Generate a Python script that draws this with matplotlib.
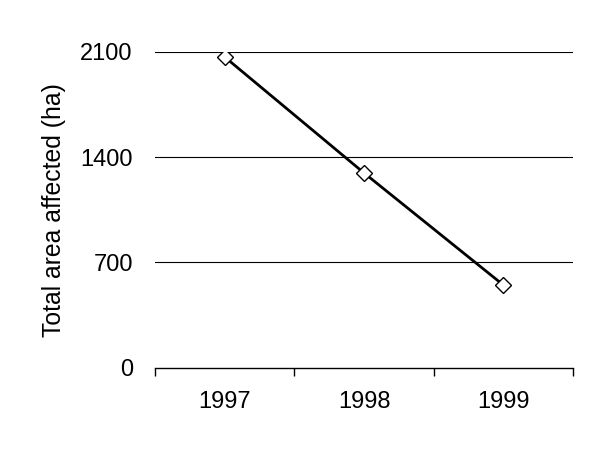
import matplotlib
matplotlib.use("Agg")
import matplotlib.pyplot as plt

years = ["1997", "1998", "1999"]
area = [2067, 1295, 549]
yticks = [0, 700, 1400, 2100]

plt.rcParams['font.family'] = ['Liberation Sans', 'DejaVu Sans']
fig = plt.figure(figsize=(6, 4.58), dpi=100)
ax = fig.add_axes([155/600, (458-367.5)/458, (573-155)/600, (367.5-52)/458])

x = list(range(len(years)))
ax.plot(x, area, color='black', lw=2, marker='D', markersize=8,
        markerfacecolor='white', markeredgecolor='black', markeredgewidth=1, zorder=3)

ax.set_xlim(-0.5, len(years) - 0.5)
ax.set_ylim(0, 2100)
ax.set_yticks(yticks)
ax.set_yticklabels([str(v) for v in yticks], fontsize=17)
ax.tick_params(axis='y', length=0, pad=16)
for v in yticks[1:]:
    ax.axhline(v, color='black', lw=0.8, zorder=1)

ax.set_xticks([i - 0.5 for i in range(len(years) + 1)])
ax.set_xticklabels([])
ax.set_xticks(x, minor=True)
ax.set_xticklabels(years, minor=True, fontsize=17)
ax.tick_params(axis='x', which='major', length=6, width=1, direction='out')
ax.tick_params(axis='x', which='minor', length=0, pad=17)

for s in ['left', 'right', 'top']:
    ax.spines[s].set_visible(False)
ax.spines['bottom'].set_linewidth(1)

ax.set_ylabel("Total area affected (ha)", fontsize=17.8, labelpad=10)

fig.savefig("out.png", dpi=100)
